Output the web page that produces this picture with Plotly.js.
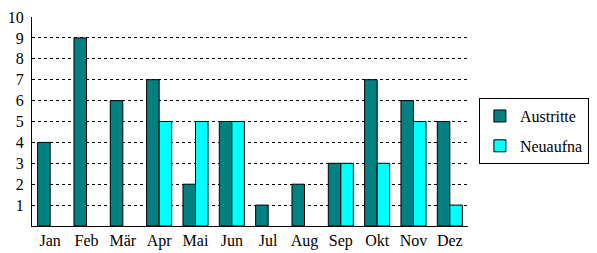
<!DOCTYPE html>
<html>
<head>
<meta charset="utf-8">
<script src="https://cdn.plot.ly/plotly-3.0.1.min.js"></script>
<style>html,body{margin:0;padding:0;background:#fff;}#chart{width:597px;height:253px;}</style>
</head>
<body>
<div id="chart"></div>
<script>
var months = ["Jan","Feb","Mär","Apr","Mai","Jun","Jul","Aug","Sep","Okt","Nov","Dez"];
var seriesNames = ["Austritte","Neuaufna"];
var austritte = [4,9,6,7,2,5,1,2,3,7,6,5];
var neuaufna = [null,null,null,5,5,5,null,null,3,3,5,1];
var yTicks = [1,2,3,4,5,6,7,8,9,10];

var font = {family: "'Liberation Serif', 'DejaVu Serif', serif", size: 16, color: "#000"};
var traces = [
  {type:"bar", name: seriesNames[0], x: months, y: austritte, legendgroup:"a",
   marker:{color:"#008080", line:{color:"#000", width:1}}},
  {type:"bar", name: seriesNames[1], x: months, y: neuaufna, legendgroup:"b",
   marker:{color:"#00FFFF", line:{color:"#000", width:1}}}
];
var layout = {
  width:597, height:253,
  margin:{l:32, r:129, t:17, b:27, pad:0, autoexpand:false},
  paper_bgcolor:"#fff", plot_bgcolor:"#fff",
  font: font,
  barmode:"group", bargap:0.31, bargroupgap:0,
  showlegend:true,
  legend:{x:1.025, y:0.612, xanchor:"left", yanchor:"top",
    bordercolor:"#000", borderwidth:1, bgcolor:"#fff",
    font: font, tracegroupgap:6, traceorder:"grouped", itemwidth:30},
  xaxis:{showline:true, linecolor:"#000", linewidth:1, ticks:"", showgrid:false,
    tickfont: font, fixedrange:true},
  yaxis:{range:[0,10], tickvals:yTicks, showline:true, linecolor:"#000", linewidth:1,
    showgrid:true, gridcolor:"#000", gridwidth:1, griddash:"3px,3px",
    zeroline:false, ticks:"", tickfont: font, ticklabelstandoff:4, fixedrange:true}
};
Plotly.newPlot("chart", traces, layout, {displayModeBar:false, staticPlot:true});
</script>
</body>
</html>
